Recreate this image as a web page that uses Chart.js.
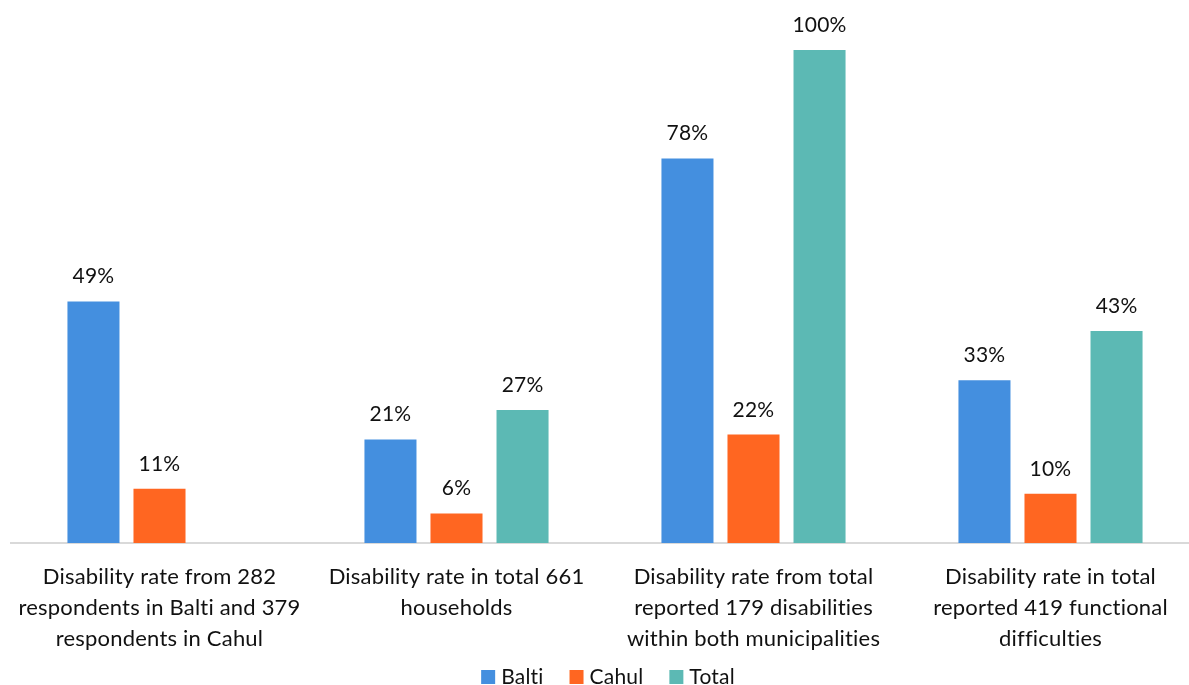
<!DOCTYPE html>
<html>
<head>
<meta charset="utf-8">
<script src="https://cdn.jsdelivr.net/npm/chart.js@4/dist/chart.umd.min.js"></script>
<style>
  html, body { margin: 0; padding: 0; background: #fff; overflow: hidden; }
  #wrap { width: 1200px; height: 685px; }
</style>
</head>
<body>
<div id="wrap"><canvas id="myChart" width="1200" height="685"></canvas></div>
<script>
const categories = [
    ['Disability rate from 282', 'respondents in Balti and 379', 'respondents in Cahul'],
    ['Disability rate in total 661', 'households'],
    ['Disability rate from total', 'reported 179 disabilities', 'within both municipalities'],
    ['Disability rate in total', 'reported 419 functional', 'difficulties']
];
const balti = [49, 21, 78, 33];
const cahul = [11, 6, 22, 10];
const total = [null, 27, 100, 43];

const FONT = "Lato, 'Open Sans', sans-serif";

// a touch of letter spacing keeps Lato from drawing its "ti" ligature
const noLigatures = {
    id: 'noLigatures',
    beforeDraw(chart) {
        chart.ctx.letterSpacing = '0.2px';
    }
};

// prints the percentage above every bar
const valueLabels = {
    id: 'valueLabels',
    afterDatasetsDraw(chart) {
        const ctx = chart.ctx;
        ctx.save();
        ctx.font = `21px ${FONT}`;
        ctx.fillStyle = '#111';
        ctx.textAlign = 'center';
        ctx.textBaseline = 'alphabetic';
        chart.data.datasets.forEach((ds, i) => {
            chart.getDatasetMeta(i).data.forEach((bar, j) => {
                const v = ds.data[j];
                if (v === null || v === undefined) return;
                ctx.fillText(v + '%', bar.x, bar.y - 18);
            });
        });
        ctx.restore();
    }
};

// compact legend row under the category labels
const bottomLegend = {
    id: 'bottomLegend',
    afterDraw(chart) {
        const ctx = chart.ctx;
        const box = 14, gap = 6, spacing = 26, baseline = 684;
        ctx.save();
        ctx.font = `21px ${FONT}`;
        ctx.textBaseline = 'alphabetic';
        ctx.textAlign = 'left';
        const items = chart.data.datasets.map(ds => ({
            text: ds.label,
            color: ds.backgroundColor,
            w: ctx.measureText(ds.label).width
        }));
        const full = items.reduce((s, it) => s + box + gap + it.w, 0) + spacing * (items.length - 1);
        const area = chart.chartArea;
        let x = (area.left + area.right) / 2 + 3 - full / 2;
        items.forEach(it => {
            ctx.fillStyle = it.color;
            ctx.fillRect(x, baseline - box, box, box);
            ctx.fillStyle = '#111';
            ctx.fillText(it.text, x + box + gap, baseline);
            x += box + gap + it.w + spacing;
        });
        ctx.restore();
    }
};

const ctx = document.getElementById('myChart').getContext('2d');
new Chart(ctx, {
    type: 'bar',
    data: {
        labels: categories,
        datasets: [
            { label: 'Balti', data: balti, backgroundColor: '#448FDF' },
            { label: 'Cahul', data: cahul, backgroundColor: '#FF6621' },
            { label: 'Total', data: total, backgroundColor: '#5CB9B4' }
        ]
    },
    options: {
        responsive: false,
        animation: false,
        layout: { padding: { left: 11, right: 1, top: 50, bottom: 22 } },
        datasets: {
            bar: { categoryPercentage: 0.667, barPercentage: 0.788 }
        },
        scales: {
            y: { display: false, min: 0, max: 100 },
            x: {
                grid: { display: false, drawTicks: false },
                border: { color: '#d9d9d9', width: 2 },
                afterFit: (scale) => { scale.height = 120; },
                ticks: {
                    color: '#111',
                    padding: 18,
                    maxRotation: 0,
                    autoSkip: false,
                    font: { family: FONT, size: 22, lineHeight: 1.41 }
                }
            }
        },
        plugins: {
            tooltip: { enabled: false },
            legend: { display: false }
        }
    },
    plugins: [noLigatures, valueLabels, bottomLegend]
});
</script>
</body>
</html>
